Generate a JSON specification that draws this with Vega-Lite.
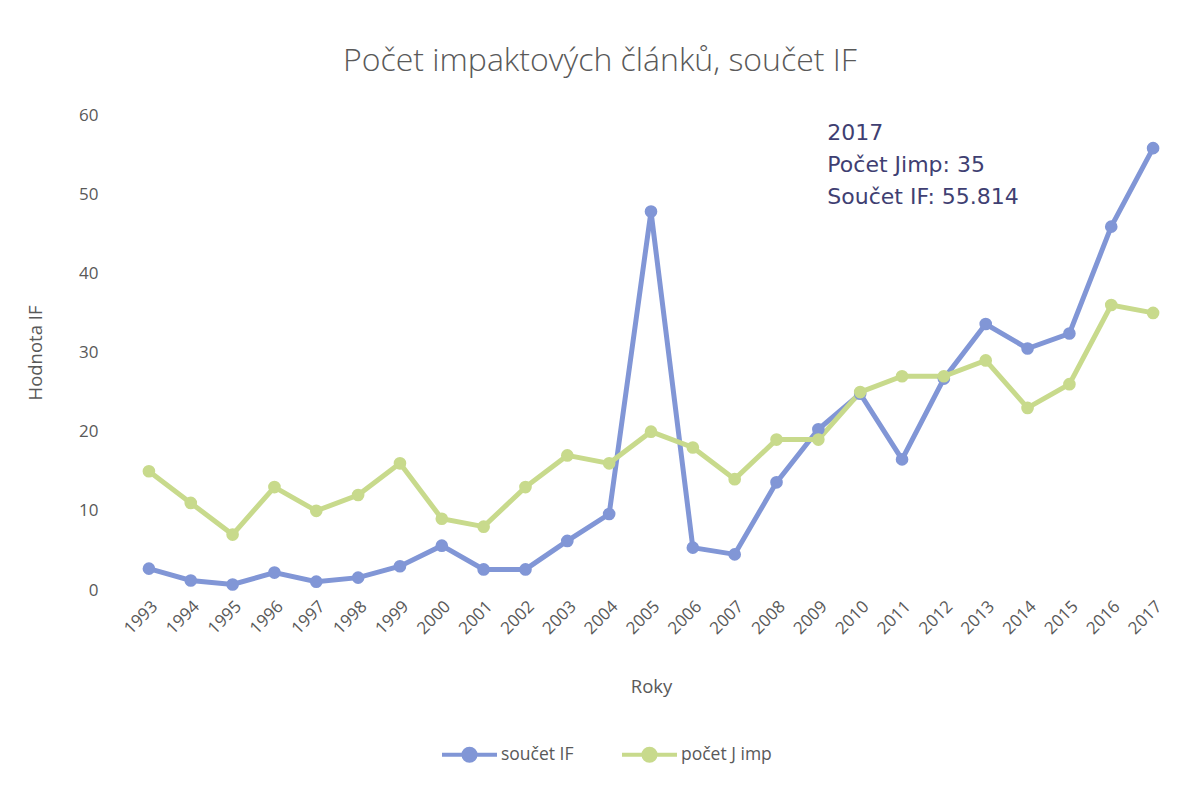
{
  "$schema": "https://vega.github.io/schema/vega-lite/v6.json",
  "autosize": "none",
  "width": 1046,
  "height": 475,
  "padding": {"left": 128, "top": 115, "right": 18, "bottom": 197},
  "background": "white",
  "config": {
    "view": {"stroke": null},
    "font": "Open Sans",
    "axis": {"labelColor": "#595959", "titleColor": "#595959", "labelFont": "Open Sans", "titleFont": "Open Sans", "titleFontWeight": "normal", "grid": false, "domain": false, "ticks": false}
  },
  "title": {
    "text": "Počet impaktových článků, součet IF",
    "font": "Open Sans",
    "fontWeight": 300,
    "fontSize": 32,
    "color": "#595959",
    "anchor": "middle",
    "dx": -51,
    "offset": 28
  },
  "data": {
    "values": [
      {"rok": "1993", "součet IF": 2.7, "počet J imp": 15},
      {"rok": "1994", "součet IF": 1.2, "počet J imp": 11},
      {"rok": "1995", "součet IF": 0.7, "počet J imp": 7},
      {"rok": "1996", "součet IF": 2.2, "počet J imp": 13},
      {"rok": "1997", "součet IF": 1.05, "počet J imp": 10},
      {"rok": "1998", "součet IF": 1.56, "počet J imp": 12},
      {"rok": "1999", "součet IF": 3.0, "počet J imp": 16},
      {"rok": "2000", "součet IF": 5.6, "počet J imp": 9},
      {"rok": "2001", "součet IF": 2.6, "počet J imp": 8},
      {"rok": "2002", "součet IF": 2.6, "počet J imp": 13},
      {"rok": "2003", "součet IF": 6.2, "počet J imp": 17},
      {"rok": "2004", "součet IF": 9.6, "počet J imp": 16},
      {"rok": "2005", "součet IF": 47.8, "počet J imp": 20},
      {"rok": "2006", "součet IF": 5.35, "počet J imp": 18},
      {"rok": "2007", "součet IF": 4.5, "počet J imp": 14},
      {"rok": "2008", "součet IF": 13.6, "počet J imp": 19},
      {"rok": "2009", "součet IF": 20.3, "počet J imp": 19},
      {"rok": "2010", "součet IF": 24.8, "počet J imp": 25},
      {"rok": "2011", "součet IF": 16.5, "počet J imp": 27},
      {"rok": "2012", "součet IF": 26.7, "počet J imp": 27},
      {"rok": "2013", "součet IF": 33.6, "počet J imp": 29},
      {"rok": "2014", "součet IF": 30.5, "počet J imp": 23},
      {"rok": "2015", "součet IF": 32.4, "počet J imp": 26},
      {"rok": "2016", "součet IF": 45.9, "počet J imp": 36},
      {"rok": "2017", "součet IF": 55.814, "počet J imp": 35}
    ]
  },
  "layer": [
    {
      "transform": [{"fold": ["součet IF", "počet J imp"], "as": ["série", "hodnota"]}],
      "encoding": {
        "x": {"field": "rok", "type": "ordinal", "scale": {"type": "point", "padding": 0.5},
              "axis": {"title": "Roky", "labelAngle": -45, "labelFontSize": 17, "labelPadding": 8, "titleFontSize": 18.5, "titlePadding": 41}},
        "y": {"field": "hodnota", "type": "quantitative", "scale": {"domain": [0, 60]},
              "axis": {"title": "Hodnota IF", "values": [0, 10, 20, 30, 40, 50, 60], "labelFontSize": 17, "labelPadding": 30, "titleFontSize": 18.5, "titlePadding": 33}},
        "color": {"field": "série", "type": "nominal",
                  "scale": {"domain": ["součet IF", "počet J imp"], "range": ["#8196d6", "#c8da8c"]},
                  "legend": {"title": null, "orient": "none", "direction": "horizontal", "legendX": 312, "legendY": 610,
                             "labelFontSize": 17.5, "labelColor": "#595959", "labelFont": "Open Sans",
                             "symbolType": "M-1,0L1,0M-0.22,0A0.22,0.22,0,1,1,0.22,0A0.22,0.22,0,1,1,-0.22,0Z",
                             "symbolSize": 3025, "symbolStrokeWidth": 4, "labelOffset": 2, "columnPadding": 40,
                             "encode": {"symbols": {"update": {"stroke": {"scale": "color", "field": "value"}, "fill": {"scale": "color", "field": "value"}, "opacity": {"value": 1}}}}}
        }
      },
      "layer": [
        {"mark": {"type": "line", "strokeWidth": 5}},
        {"mark": {"type": "point", "filled": true, "size": 160, "opacity": 1}}
      ]
    },
    {
      "data": {"values": [{"popis": "2017\nPočet Jimp: 35\nSoučet IF: 55.814"}]},
      "mark": {"type": "text", "align": "left", "baseline": "top", "dx": 9, "fontSize": 22, "font": "DejaVu Sans", "color": "#3f3f72", "lineHeight": 32, "lineBreak": "\n"},
      "encoding": {
        "x": {"datum": "2009", "type": "ordinal"},
        "y": {"datum": 59.05, "type": "quantitative"},
        "text": {"field": "popis", "type": "nominal"}
      }
    }
  ]
}
